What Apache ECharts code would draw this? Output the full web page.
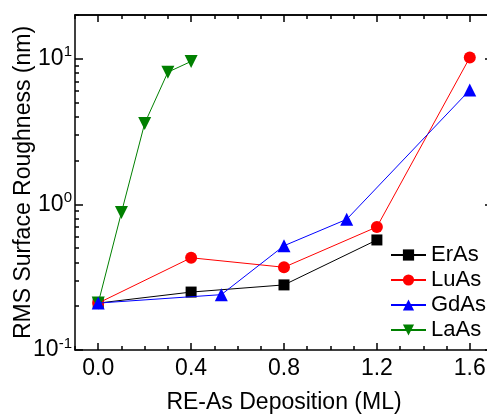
<!DOCTYPE html>
<html>
<head>
<meta charset="utf-8">
<script src="https://cdn.jsdelivr.net/npm/echarts@6/dist/echarts.min.js"></script>
<style>
	html, body { margin: 0; padding: 0; background: #fff; }
	#chart { width: 487px; height: 416px; }
</style>
</head>
<body>
<div id="chart"></div>
<script>
// data
const erAs = [[0, 0.21], [0.4, 0.25], [0.8, 0.28], [1.2, 0.57]]
const luAs = [[0, 0.21], [0.4, 0.43], [0.8, 0.37], [1.2, 0.70], [1.6, 10.2]]
const gdAs = [[0, 0.21], [0.53, 0.24], [0.8, 0.52], [1.07, 0.79], [1.6, 6.1]]
const laAs = [[0, 0.21], [0.1, 0.88], [0.2, 3.6], [0.3, 8.1], [0.4, 9.6]]

const xLabels = [0, 0.4, 0.8, 1.2, 1.6]
const xMinor = [-0.1, 0.1, 0.2, 0.3, 0.5, 0.6, 0.7, 0.9, 1.0, 1.1, 1.3, 1.4, 1.5, 1.7]
const yLabels = [0.1, 1, 10]
const yMinor = [0.2, 0.3, 0.4, 0.5, 0.6, 0.7, 0.8, 0.9, 2, 3, 4, 5, 6, 7, 8, 9, 20]

const font = 'Liberation Sans'
const lineStyle = { color: '#000', width: 1.5 }

function xAxisPart(pos, values, len, labels, name) {
	return {
		type: 'value', position: pos, min: -0.1, max: 1.7,
		name: name || '', nameLocation: 'middle', nameGap: 41, nameMoveOverlap: false,
		nameTextStyle: { fontFamily: font, fontSize: 23, color: '#000' },
		axisLine: { show: !!labels || pos === 'top', onZero: false, lineStyle: lineStyle },
		axisTick: { inside: true, length: len, customValues: values, lineStyle: lineStyle },
		axisLabel: labels ? {
			customValues: values, margin: 7, fontFamily: font, fontSize: 23, color: '#000',
			formatter: v => v.toFixed(1)
		} : { show: false },
		splitLine: { show: false }
	}
}

function yAxisPart(pos, values, len, labels, name) {
	return {
		type: 'log', position: pos, min: 0.1, max: 20, logBase: 10,
		name: name || '', nameLocation: 'middle', nameGap: 40, nameMoveOverlap: false,
		nameTextStyle: { fontFamily: font, fontSize: 23, color: '#000' },
		axisLine: { show: !!labels || pos === 'right', onZero: false, lineStyle: lineStyle },
		axisTick: { inside: true, length: len, customValues: values, lineStyle: lineStyle },
		axisLabel: labels ? {
			customValues: values, margin: 3, color: '#000',
			formatter: v => '{b|10}{s|' + Math.round(Math.log10(v)) + '}',
			rich: {
				b: { fontFamily: font, fontSize: 23, color: '#000' },
				s: { fontFamily: font, fontSize: 15, color: '#000', padding: [0, 0, 13, 0] }
			}
		} : { show: false },
		splitLine: { show: false }
	}
}

function series(name, data, color, symbol, size, z, rotate) {
	return {
		name: name, type: 'line', data: data, z: z,
		symbol: symbol, symbolSize: size, symbolRotate: rotate || 0,
		lineStyle: { color: color, width: 1 },
		itemStyle: { color: color },
		showSymbol: true, animation: false
	}
}

const myChart = echarts.init(document.getElementById('chart'))
myChart.setOption({
	animation: false,
	grid: { left: 75, top: 15, right: -6, bottom: 66, containLabel: false, outerBoundsMode: 'none' },
	xAxis: [
		xAxisPart('bottom', xLabels, 7, true, 'RE-As Deposition (ML)'),
		xAxisPart('bottom', xMinor, 4, false),
		xAxisPart('top', xLabels, 7, false),
		xAxisPart('top', xMinor, 4, false)
	],
	yAxis: [
		yAxisPart('left', yLabels, 8, true, 'RMS Surface Roughness (nm)'),
		yAxisPart('left', yMinor, 4, false),
		yAxisPart('right', yLabels, 8, false),
		yAxisPart('right', yMinor, 4, false)
	],
	legend: {
		left: 390, top: 244, orient: 'vertical', padding: 0,
		itemWidth: 35, itemHeight: 14, itemGap: 3,
		textStyle: { fontFamily: font, fontSize: 22, color: '#000' },
		data: ['ErAs', 'LuAs', 'GdAs', 'LaAs']
	},
	series: [
		series('ErAs', erAs, '#000000', 'rect', 11, 2),
		series('LuAs', luAs, '#ff0000', 'circle', 12, 2),
		series('LaAs', laAs, '#008000', 'triangle', 13, 3, 180),
		series('GdAs', gdAs, '#0000ff', 'triangle', 13, 4)
	]
})
window.addEventListener('resize', function() {
	myChart.resize()
})
</script>
</body>
</html>
